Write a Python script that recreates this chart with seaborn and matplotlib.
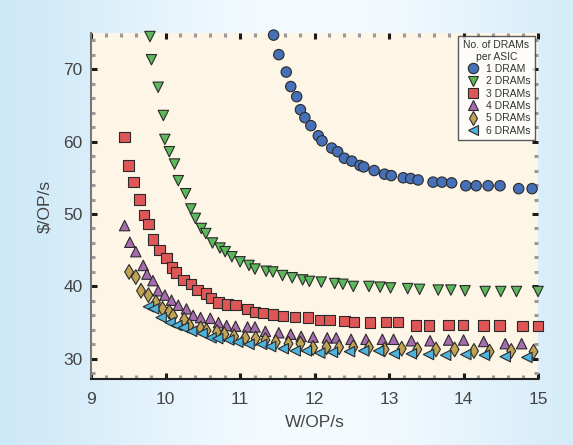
import numpy as np
import pandas as pd
import matplotlib
matplotlib.use("Agg")
import matplotlib.pyplot as plt
from matplotlib.ticker import MultipleLocator
import seaborn as sns

# values
x_1dram = [11.45, 11.52, 11.62, 11.68, 11.76, 11.81, 11.87, 11.95, 12.05, 12.10, 12.23, 12.31,
           12.40, 12.50, 12.61, 12.66, 12.80, 12.94, 13.03, 13.19, 13.29, 13.39, 13.59, 13.71,
           13.84, 14.03, 14.17, 14.33, 14.49, 14.74, 14.92]
y_1dram = [74.7, 72.0, 69.6, 67.6, 66.2, 64.4, 63.3, 62.2, 60.8, 60.1, 59.1, 58.6,
           57.7, 57.3, 56.7, 56.5, 56.0, 55.5, 55.3, 55.0, 54.9, 54.7, 54.4, 54.4,
           54.3, 53.9, 53.9, 53.9, 53.9, 53.5, 53.5]

x_2dram = [9.79, 9.81, 9.90, 9.97, 9.99, 10.05, 10.12, 10.17, 10.27, 10.34, 10.40, 10.48,
           10.54, 10.63, 10.73, 10.80, 10.89, 11.00, 11.12, 11.20, 11.35, 11.44, 11.57, 11.70,
           11.84, 11.93, 12.09, 12.27, 12.38, 12.52, 12.73, 12.88, 13.02, 13.25, 13.41, 13.66,
           13.83, 14.02, 14.29, 14.50, 14.71, 15.0]
y_2dram = [74.5, 71.3, 67.5, 63.6, 60.3, 58.6, 56.9, 54.6, 52.8, 50.7, 49.4, 48.0,
           47.3, 46.0, 45.3, 44.8, 44.1, 43.4, 42.9, 42.4, 42.1, 42.0, 41.5, 41.2,
           40.9, 40.7, 40.6, 40.4, 40.3, 40.0, 40.0, 39.9, 39.8, 39.7, 39.6, 39.5,
           39.5, 39.4, 39.3, 39.3, 39.3, 39.3]

x_3dram = [9.45, 9.50, 9.57, 9.65, 9.71, 9.77, 9.83, 9.92, 10.01, 10.09, 10.14, 10.24,
           10.34, 10.43, 10.54, 10.61, 10.71, 10.83, 10.94, 11.10, 11.20, 11.31, 11.44, 11.58,
           11.74, 11.91, 12.08, 12.20, 12.40, 12.53, 12.74, 12.96, 13.12, 13.36, 13.54, 13.80,
           13.99, 14.27, 14.48, 14.79, 15.0]
y_3dram = [60.6, 56.7, 54.4, 52.0, 49.9, 48.6, 46.5, 45.0, 43.9, 42.6, 41.9, 40.9,
           40.3, 39.5, 39.0, 38.4, 37.8, 37.5, 37.4, 36.9, 36.5, 36.3, 36.1, 35.9,
           35.8, 35.7, 35.4, 35.4, 35.2, 35.1, 35.0, 35.1, 35.1, 34.6, 34.6, 34.7,
           34.7, 34.6, 34.6, 34.5, 34.5]

x_4dram = [9.45, 9.52, 9.60, 9.70, 9.75, 9.83, 9.90, 9.99, 10.08, 10.17, 10.28, 10.37,
           10.47, 10.60, 10.71, 10.82, 10.94, 11.10, 11.20, 11.34, 11.52, 11.68, 11.82, 11.98,
           12.17, 12.29, 12.49, 12.69, 12.91, 13.06, 13.30, 13.55, 13.80, 14.00, 14.27, 14.56,
           14.78]
y_4dram = [48.4, 46.1, 44.8, 42.9, 41.7, 40.8, 39.4, 38.8, 38.1, 37.4, 36.9, 36.0,
           35.7, 35.6, 35.0, 34.6, 34.5, 34.4, 34.4, 33.8, 33.6, 33.4, 33.1, 33.0,
           32.9, 32.9, 32.7, 32.7, 32.7, 32.7, 32.5, 32.5, 32.6, 32.6, 32.4, 32.1,
           32.1]

x_5dram = [9.51, 9.60, 9.67, 9.77, 9.87, 9.96, 10.05, 10.10, 10.25, 10.32, 10.47, 10.55,
           10.69, 10.79, 10.92, 11.07, 11.21, 11.34, 11.48, 11.65, 11.81, 11.98, 12.16, 12.33,
           12.52, 12.73, 12.94, 13.17, 13.38, 13.63, 13.88, 14.14, 14.35, 14.64, 14.94]
y_5dram = [42.0, 41.3, 39.4, 38.8, 37.8, 36.9, 36.5, 35.9, 35.4, 34.6, 34.2, 33.9,
           33.7, 33.4, 33.1, 32.9, 32.8, 32.6, 32.3, 32.1, 32.1, 31.5, 31.6, 31.6,
           31.6, 31.6, 31.3, 31.4, 31.3, 31.3, 31.3, 31.1, 31.0, 31.1, 31.0]

x_6dram = [9.77, 9.84, 9.94, 10.06, 10.15, 10.24, 10.35, 10.49, 10.61, 10.70, 10.85, 10.97,
           11.12, 11.29, 11.41, 11.58, 11.74, 11.89, 12.07, 12.24, 12.47, 12.66, 12.86, 13.07,
           13.30, 13.53, 13.76, 14.03, 14.28, 14.56, 14.85]
y_6dram = [37.2, 36.9, 35.7, 35.0, 34.6, 34.3, 33.8, 33.5, 32.9, 32.8, 32.6, 32.3,
           32.0, 32.0, 31.7, 31.4, 31.1, 31.1, 30.8, 30.9, 31.0, 31.1, 31.1, 30.7,
           30.7, 30.6, 30.5, 30.6, 30.5, 30.3, 30.2]

series_names = ["1 DRAM", "2 DRAMs", "3 DRAMs", "4 DRAMs", "5 DRAMs", "6 DRAMs"]
series_x = [x_1dram, x_2dram, x_3dram, x_4dram, x_5dram, x_6dram]
series_y = [y_1dram, y_2dram, y_3dram, y_4dram, y_5dram, y_6dram]

colors = ["#4670b8", "#5cb85a", "#de5656", "#a76bb0", "#c1a356", "#4db2dc"]
markers = ["o", "v", "s", "^", "d", "<"]

frames = []
for name, xs, ys in zip(series_names, series_x, series_y):
    frames.append(pd.DataFrame({"W": xs, "cost": ys, "DRAMs": name}))
df = pd.concat(frames, ignore_index=True)

sns.set_style("ticks")
plt.rcParams["font.family"] = ["Liberation Sans", "DejaVu Sans"]

fig = plt.figure(figsize=(5.73, 4.45), dpi=100)

# light blue gradient background
bg = fig.add_axes([0, 0, 1, 1], zorder=-10)
gx = np.linspace(0, 1, 256)
shade = 1 - np.exp(-((gx - 0.55) / 0.45) ** 2)
c_edge = np.array([0.76, 0.89, 0.96])
c_mid = np.array([0.96, 0.985, 1.0])
grad = c_mid[None, :] * (1 - shade[:, None]) + c_edge[None, :] * shade[:, None]
bg.imshow(grad[None, :, :], aspect="auto", extent=[0, 1, 0, 1])
bg.axis("off")

ax = fig.add_axes([0.159, 0.148, 0.780, 0.778])
ax.set_facecolor("#fdf5e6")

sns.scatterplot(data=df, x="W", y="cost", hue="DRAMs", style="DRAMs",
                palette=colors, markers=markers, s=56, edgecolor="#2a2a2a",
                linewidth=0.8, ax=ax, clip_on=False, zorder=3)

ax.set_xlim(9, 15)
ax.set_ylim(27.2, 75)
ax.xaxis.set_major_locator(MultipleLocator(1))
ax.xaxis.set_minor_locator(MultipleLocator(0.2))
ax.yaxis.set_major_locator(MultipleLocator(10))
ax.yaxis.set_minor_locator(MultipleLocator(2))
ax.tick_params(which="major", direction="in", length=4, width=2.2, color="#1a1a1a",
               top=True, right=True, labelsize=12.5, labelcolor="#444444")
ax.tick_params(axis="x", which="major", pad=9)
ax.tick_params(axis="y", which="major", pad=6)
ax.tick_params(which="minor", direction="in", length=3, width=2.2, color="#9a9a9a",
               top=True, right=True)

for side in ["top", "right"]:
    ax.spines[side].set_visible(False)
ax.spines["left"].set_color("#777777")
ax.spines["left"].set_linewidth(1.5)
ax.spines["bottom"].set_color("#222222")
ax.spines["bottom"].set_linewidth(1.5)

ax.set_xlabel("W/OP/s", fontsize=12.5, color="#444444", labelpad=6)
ax.set_ylabel("$/OP/s", fontsize=12.5, color="#444444", labelpad=8)

leg = ax.legend(title="No. of DRAMs\nper ASIC", loc="upper right", fontsize=7.5,
                title_fontsize=7.5, frameon=True, fancybox=False, edgecolor="#333333",
                borderaxespad=0.3, handletextpad=0.3, labelspacing=0.22,
                markerscale=1.0, borderpad=0.4)
leg.get_frame().set_linewidth(1.0)
leg.get_title().set_color("#333333")
leg.get_title().set_multialignment("center")
for t in leg.get_texts():
    t.set_color("#333333")

fig.savefig("out.png", dpi=100)
